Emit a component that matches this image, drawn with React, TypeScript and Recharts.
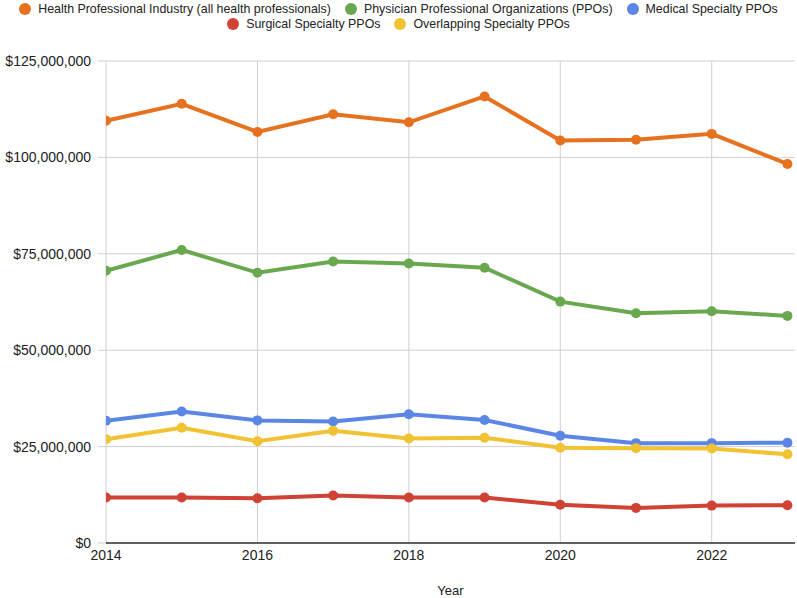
import React from 'react'
import { LineChart, Line, XAxis, YAxis, CartesianGrid } from 'recharts'

const YEARS = [2014, 2015, 2016, 2017, 2018, 2019, 2020, 2021, 2022, 2023]

const HEALTH_PROF = [109.5, 113.9, 106.6, 111.2, 109.1, 115.8, 104.4, 104.6, 106.1, 98.3]
const PHYSICIAN_PPO = [70.6, 76.0, 70.1, 73.0, 72.5, 71.4, 62.6, 59.6, 60.1, 58.9]
const MEDICAL_PPO = [31.7, 34.1, 31.8, 31.5, 33.4, 31.9, 27.8, 25.9, 25.9, 26.0]
const SURGICAL_PPO = [11.8, 11.8, 11.6, 12.3, 11.8, 11.8, 9.9, 9.1, 9.7, 9.8]
const OVERLAP_PPO = [26.9, 29.9, 26.4, 29.1, 27.1, 27.3, 24.7, 24.6, 24.5, 23.0]

const X_TICKS = [2014, 2016, 2018, 2020, 2022]
const Y_TICKS = [0, 25000000, 50000000, 75000000, 100000000, 125000000]

const SERIES = [
    { key: 'health', name: 'Health Professional Industry (all health professionals)', color: '#e6711e', values: HEALTH_PROF },
    { key: 'physician', name: 'Physician Professional Organizations (PPOs)', color: '#6aa84f', values: PHYSICIAN_PPO },
    { key: 'medical', name: 'Medical Specialty PPOs', color: '#5b86e5', values: MEDICAL_PPO },
    { key: 'surgical', name: 'Surgical Specialty PPOs', color: '#cf4234', values: SURGICAL_PPO },
    { key: 'overlap', name: 'Overlapping Specialty PPOs', color: '#f1c232', values: OVERLAP_PPO },
]

const data = YEARS.map((year, i) => {
    const row: Record<string, number> = { year }
    SERIES.forEach((s) => {
        row[s.key] = s.values[i] * 1000000
    })
    return row
})

const FONT = 'Arial, "Liberation Sans", Helvetica, sans-serif'

function ChartLegend() {
    return (
        <div
            style={{
                position: 'absolute',
                top: 2,
                left: 0,
                width: 797,
                display: 'flex',
                flexWrap: 'wrap',
                justifyContent: 'center',
                rowGap: 1,
                fontFamily: FONT,
                fontSize: 12.4,
                color: '#222',
                lineHeight: '14px',
            }}
        >
            {SERIES.map((s) => (
                <div key={s.key} style={{ display: 'flex', alignItems: 'center', margin: '0 7px' }}>
                    <span
                        style={{
                            width: 12,
                            height: 12,
                            borderRadius: 6,
                            background: s.color,
                            marginRight: 7,
                            display: 'inline-block',
                        }}
                    />
                    <span>{s.name}</span>
                </div>
            ))}
        </div>
    )
}

export default function App() {
    return (
        <div style={{ position: 'absolute', left: 0, top: 0, width: 797, height: 598, background: '#fff' }}>
            <ChartLegend />
            <LineChart
                width={797}
                height={598}
                data={data}
                margin={{ top: 61, right: 2, bottom: 0, left: 10 }}
                style={{ fontFamily: FONT }}
            >
                <CartesianGrid stroke="#d0d0d0" strokeWidth={1} verticalValues={X_TICKS} />
                <XAxis
                    dataKey="year"
                    type="number"
                    domain={[2014, 2023.1]}
                    ticks={X_TICKS}
                    allowDataOverflow
                    height={55}
                    tickLine={false}
                    tickSize={5}
                    tickMargin={2}
                    axisLine={{ stroke: '#333', strokeWidth: 1.5 }}
                    tick={{ fill: '#222', fontSize: 14 }}
                    label={{ value: 'Year', position: 'insideBottom', offset: 3, fill: '#222', fontSize: 13 }}
                />
                <YAxis
                    type="number"
                    domain={[0, 125000000]}
                    ticks={Y_TICKS}
                    width={96}
                    axisLine={false}
                    tickSize={8}
                    tickMargin={7}
                    tickLine={{ stroke: '#d0d0d0' }}
                    tick={{ fill: '#222', fontSize: 14 }}
                    tickFormatter={(v: number) => '$' + v.toLocaleString('en-US')}
                />
                {SERIES.map((s) => (
                    <Line
                        key={s.key}
                        dataKey={s.key}
                        name={s.name}
                        stroke={s.color}
                        strokeWidth={4}
                        dot={{ r: 5, fill: s.color, stroke: s.color, strokeWidth: 0 }}
                        activeDot={false}
                        isAnimationActive={false}
                    />
                ))}
            </LineChart>
        </div>
    )
}
